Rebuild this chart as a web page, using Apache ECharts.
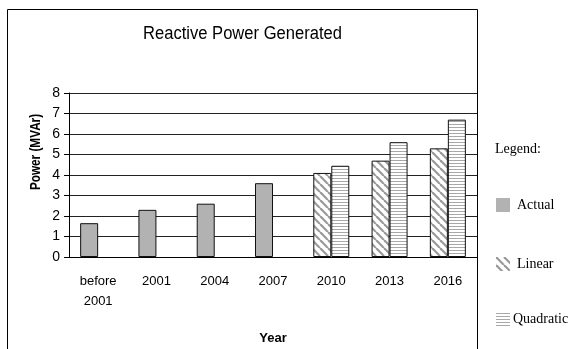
<!DOCTYPE html>
<html>
<head>
<meta charset="utf-8">
<style>
  html, body { margin: 0; padding: 0; background: #fff; }
  #chart { width: 569px; height: 349px; }
</style>
<script src="https://cdn.jsdelivr.net/npm/echarts@6/dist/echarts.min.js"></script>
</head>
<body>
<div id="chart"></div>
<script>
// Reactive power by year: measured values, then two forecasts
const categories = ['before\n2001', '2001', '2004', '2007', '2010', '2013', '2016'];
const actual    = [1.65, 2.3, 2.6, 3.6, null, null, null];
const linear    = [null, null, null, null, 4.1, 4.7, 5.3];
const quadratic = [null, null, null, null, 4.45, 5.6, 6.7];
const yTicks = { min: 0, max: 8, interval: 1 };

const SANS = "'Liberation Sans', Arial, sans-serif";
const SERIF = "'Liberation Serif', 'Times New Roman', serif";

// Hatch fills
function diagonalPattern() {
  const c = document.createElement('canvas');
  c.width = 8; c.height = 8;
  const g = c.getContext('2d');
  g.fillStyle = '#fff'; g.fillRect(0, 0, 8, 8);
  g.strokeStyle = '#9a9a9a'; g.lineWidth = 2.2;
  for (let k = -8; k <= 8; k += 8) {
    g.beginPath(); g.moveTo(k, 0); g.lineTo(k + 8, 8); g.stroke();
  }
  return c;
}
function horizontalPattern() {
  const c = document.createElement('canvas');
  c.width = 4; c.height = 3;
  const g = c.getContext('2d');
  g.fillStyle = '#fff'; g.fillRect(0, 0, 4, 3);
  g.fillStyle = '#a8a8a8'; g.fillRect(0, 1, 4, 1);
  return c;
}
const diagFill = { image: diagonalPattern(), repeat: 'repeat' };
const horizFill = { image: horizontalPattern(), repeat: 'repeat' };

const chart = echarts.init(document.getElementById('chart'), null, { renderer: 'canvas' });

function legendAt(name, top, shift) {
  return {
    data: [{ name: name, icon: 'rect', itemStyle: { borderWidth: 0 } }],
    left: 496, top: top, orient: 'vertical',
    itemWidth: 14, itemHeight: 14, itemGap: 0, padding: 0,
    selectedMode: false,
    textStyle: { fontFamily: SERIF, fontSize: 14, color: '#000', padding: [0, 0, 0, shift] }
  };
}

chart.setOption({
  animation: false,
  backgroundColor: '#fff',
  graphic: [
    { type: 'rect', silent: true, z: -1,
      shape: { x: 7.5, y: 9.5, width: 470, height: 400 },
      style: { fill: 'none', stroke: '#000', lineWidth: 1 } },
    // chart title, slightly condensed
    { type: 'text', x: 242.5, y: 34, scaleX: 0.92,
      style: { text: 'Reactive Power Generated', font: '18px ' + SANS, fill: '#000',
               textAlign: 'center', textVerticalAlign: 'middle' } },
    // value-axis title
    { type: 'text', x: 36, y: 152, rotation: Math.PI / 2, scaleX: 0.84,
      style: { text: 'Power (MVAr)', font: 'bold 14px ' + SANS, fill: '#000',
               textAlign: 'center', textVerticalAlign: 'middle' } },
    { type: 'text', left: 495, top: 142,
      style: { text: 'Legend:', font: '14px ' + SERIF, fill: '#000' } }
  ],
  legend: [
    legendAt('Actual', 198, 2),
    legendAt('Linear', 257, 2),
    legendAt('Quadratic', 312, -2)
  ],
  grid: { left: 69, right: 92, top: 93, bottom: 92 },
  xAxis: {
    type: 'category',
    data: categories,
    name: 'Year', nameLocation: 'middle', nameGap: 75,
    nameTextStyle: { fontFamily: SANS, fontSize: 13, fontWeight: 'bold', color: '#000' },
    axisLine: { lineStyle: { color: '#000', width: 1 } },
    axisTick: { length: 6, lineStyle: { color: '#000' } },
    axisLabel: { fontFamily: SANS, fontSize: 13, color: '#000', margin: 14, lineHeight: 20 },
    splitLine: { show: false }
  },
  yAxis: {
    type: 'value',
    min: yTicks.min, max: yTicks.max, interval: yTicks.interval,
    axisLine: { show: true, lineStyle: { color: '#000', width: 1 } },
    axisTick: { show: true, length: 5, lineStyle: { color: '#000' } },
    axisLabel: { fontFamily: SANS, fontSize: 14, color: '#000', margin: 9 },
    splitLine: { lineStyle: { color: '#222', width: 1 } }
  },
  series: [
    { name: 'Actual', type: 'bar', stack: 'a', data: actual, barWidth: 18, barGap: '0%',
      itemStyle: { color: '#b2b2b2', borderColor: '#111', borderWidth: 1 } },
    { name: 'Linear', type: 'bar', stack: 'a', data: linear, barWidth: 18, barGap: '0%',
      itemStyle: { color: diagFill, borderColor: '#111', borderWidth: 1 } },
    { name: 'Quadratic', type: 'bar', stack: 'q', data: quadratic, barWidth: 18, barGap: '0%',
      itemStyle: { color: horizFill, borderColor: '#111', borderWidth: 1 } }
  ]
});
</script>
</body>
</html>
